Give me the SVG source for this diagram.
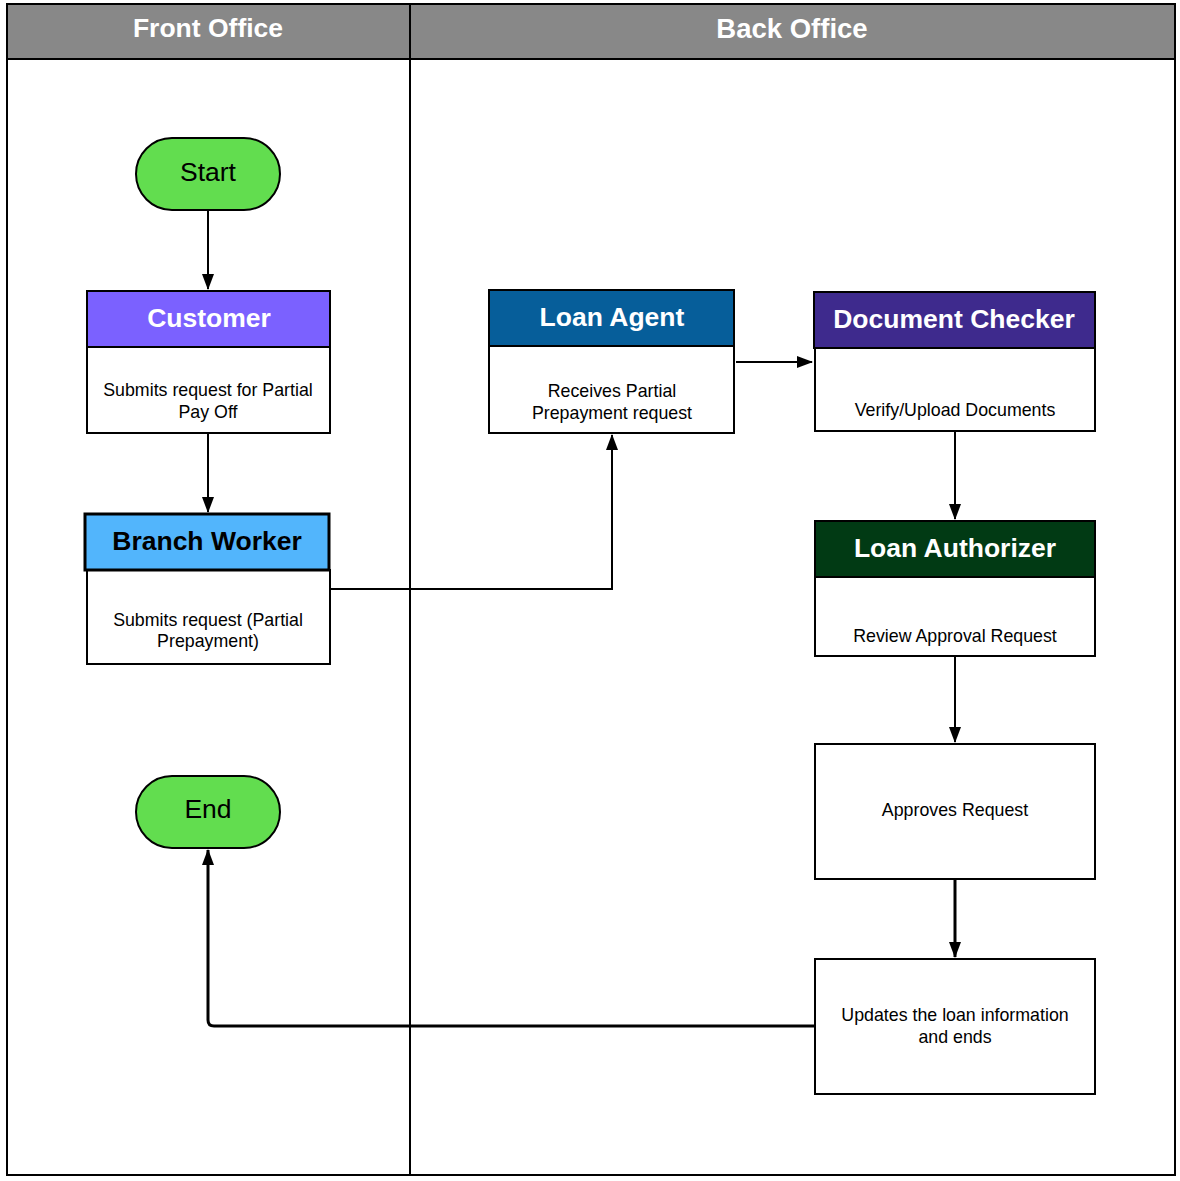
<svg xmlns="http://www.w3.org/2000/svg" width="1180" height="1181" viewBox="0 0 1180 1181">
<style>
.frame{fill:none;stroke:#000;stroke-width:2}
.hdr{font-family:"Liberation Sans",Arial,sans-serif;font-size:26.5px;font-weight:bold;fill:#fff;text-anchor:middle}
.title{font-family:"Liberation Sans",Arial,sans-serif;font-size:26.5px;font-weight:bold;text-anchor:middle}
.body{font-family:"Liberation Sans",Arial,sans-serif;font-size:17.8px;fill:#000;text-anchor:middle}
.term{font-family:"Liberation Sans",Arial,sans-serif;font-size:26.5px;fill:#000;text-anchor:middle}
.box{fill:#fff;stroke:#000;stroke-width:2}
.conn{fill:none;stroke:#000;stroke-width:2}
.thick{stroke-width:3}
</style>
<defs>
<marker id="arr" viewBox="0 0 16 12" refX="15" refY="6" markerWidth="16" markerHeight="12" markerUnits="userSpaceOnUse" orient="auto">
<path d="M0,0 L16,6 L0,12 Z" fill="#000"/>
</marker>
</defs>
<rect width="1180" height="1181" fill="#fff"/>
<g id="lanes">
<rect x="7" y="4" width="1168" height="55" fill="#888888"/>
<rect x="7" y="4" width="1168" height="1171" class="frame"/>
<line x1="7" y1="59" x2="1175" y2="59" stroke="#000" stroke-width="2"/>
<line x1="410" y1="4" x2="410" y2="1175" stroke="#000" stroke-width="2"/>
<text class="hdr" x="208" y="37">Front Office</text>
<text class="hdr" x="792" y="38" style="font-size:27.5px">Back Office</text>
</g>
<g id="connectors">
<line class="conn" x1="208" y1="210" x2="208" y2="289" marker-end="url(#arr)"/>
<line class="conn" x1="208" y1="433" x2="208" y2="512" marker-end="url(#arr)"/>
<polyline class="conn" points="330,589 612,589 612,435" marker-end="url(#arr)"/>
<line class="conn" x1="736" y1="362" x2="812" y2="362" marker-end="url(#arr)"/>
<line class="conn" x1="955" y1="431" x2="955" y2="519" marker-end="url(#arr)"/>
<line class="conn" x1="955" y1="656" x2="955" y2="742" marker-end="url(#arr)"/>
<line class="conn thick" x1="955" y1="879" x2="955" y2="957" marker-end="url(#arr)"/>
<path class="conn thick" d="M815,1026 L214,1026 Q208,1026 208,1020 L208,850" marker-end="url(#arr)"/>
</g>
<g id="start">
<rect x="136" y="138" width="144" height="72" rx="36" fill="#62dd4f" stroke="#000" stroke-width="2"/>
<text class="term" x="208" y="181">Start</text>
</g>
<g id="customer">
<rect x="87" y="291" width="243" height="142" class="box"/>
<rect x="87" y="291" width="243" height="56" fill="#7b61ff" stroke="#000" stroke-width="2"/>
<text class="title" x="209" y="327" fill="#fff">Customer</text>
<text class="body" x="208" y="396">Submits request for Partial</text>
<text class="body" x="208" y="418">Pay Off</text>
</g>
<g id="branch-worker">
<rect x="87" y="570" width="243" height="94" class="box"/>
<rect x="85" y="514" width="244" height="56" fill="#52b5fc" stroke="#000" stroke-width="3"/>
<text class="title" x="207" y="550" fill="#000">Branch Worker</text>
<text class="body" x="208" y="626">Submits request (Partial</text>
<text class="body" x="208" y="647">Prepayment)</text>
</g>
<g id="loan-agent">
<rect x="489" y="290" width="245" height="143" class="box"/>
<rect x="489" y="290" width="245" height="56" fill="#065e9a" stroke="#000" stroke-width="2"/>
<text class="title" x="612" y="326" fill="#fff">Loan Agent</text>
<text class="body" x="612" y="397">Receives Partial</text>
<text class="body" x="612" y="419">Prepayment request</text>
</g>
<g id="document-checker">
<rect x="815" y="292" width="280" height="139" class="box"/>
<rect x="814" y="292" width="281" height="56" fill="#3e2a8d" stroke="#000" stroke-width="2"/>
<text class="title" x="954" y="328" fill="#fff">Document Checker</text>
<text class="body" x="955" y="416">Verify/Upload Documents</text>
</g>
<g id="loan-authorizer">
<rect x="815" y="521" width="280" height="135" class="box"/>
<rect x="815" y="521" width="280" height="56" fill="#013a14" stroke="#000" stroke-width="2"/>
<text class="title" x="955" y="557" fill="#fff">Loan Authorizer</text>
<text class="body" x="955" y="642">Review Approval Request</text>
</g>
<g id="approves">
<rect x="815" y="744" width="280" height="135" class="box"/>
<text class="body" x="955" y="816">Approves Request</text>
</g>
<g id="updates">
<rect x="815" y="959" width="280" height="135" class="box"/>
<text class="body" x="955" y="1021">Updates the loan information</text>
<text class="body" x="955" y="1043">and ends</text>
</g>
<g id="end">
<rect x="136" y="776" width="144" height="72" rx="36" fill="#62dd4f" stroke="#000" stroke-width="2"/>
<text class="term" x="208" y="818">End</text>
</g>
</svg>
